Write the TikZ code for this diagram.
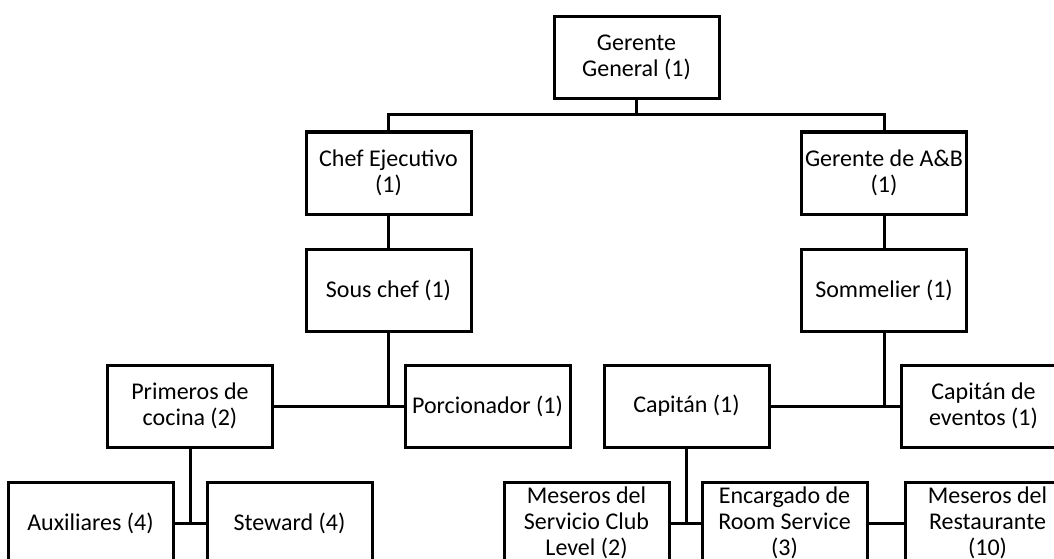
\documentclass[tikz,border=0pt]{standalone}
\usepackage{fontspec}
\setmainfont{Carlito}
\begin{document}
\begin{tikzpicture}[x=1pt,y=-1pt,
  box/.style={draw, line width=3pt, rectangle, minimum width=165pt, minimum height=82pt,
    inner sep=0pt, align=center, font=\fontsize{24}{26}\selectfont},
  conn/.style={line width=3pt, line join=miter}]
\useasboundingbox (0,0) rectangle (1054,559);
\clip (0,0) rectangle (1054,559);
\fill[white] (0,0) rectangle (1054,559);
\node[box] (gg) at (636.5,57.5) {Gerente\\General (1)};
\node[box] (chef) at (388.5,173) {Chef Ejecutivo\\(1)};
\node[box] (ab) at (884,173) {Gerente de A\&B\\(1)};
\node[box] (sous) at (388.5,290) {Sous chef (1)};
\node[box] (somm) at (884,290) {Sommelier (1)};
\node[box] (prim) at (190,406) {Primeros de\\cocina (2)};
\node[box] (porc) at (487.5,406) {Porcionador (1)};
\node[box] (cap) at (686.5,406) {Capitán (1)};
\node[box] (capev) at (983.5,406) {Capitán de\\eventos (1)};
\node[box] (aux) at (90.5,523) {Auxiliares (4)};
\node[box] (stew) at (289.5,523) {Steward (4)};
\node[box] (club) at (586.5,523) {Meseros del\\Servicio Club\\Level (2)};
\node[box] (enc) at (784.5,523) {Encargado de\\Room Service\\(3)};
\node[box] (rest) at (987.5,523) {Meseros del\\Restaurante\\(10)};
\coordinate (bus) at (0,115);
\draw[conn] (gg.south) -- (gg.south |- bus);
\draw[conn] (chef.north) -- (chef.north |- bus) -- (ab.north |- bus) -- (ab.north);
\draw[conn] (chef.south) -- (sous.north);
\draw[conn] (ab.south) -- (somm.north);
\draw[conn] (sous.south) -- (sous.south |- prim.east);
\draw[conn] (prim.east) -- (porc.west);
\draw[conn] (somm.south) -- (somm.south |- cap.east);
\draw[conn] (cap.east) -- (capev.west);
\draw[conn] (prim.south) -- (prim.south |- aux.east);
\draw[conn] (aux.east) -- (stew.west);
\draw[conn] (cap.south) -- (cap.south |- club.east);
\draw[conn] (club.east) -- (enc.west);
\draw[conn] (enc.east) -- (rest.west);
\end{tikzpicture}
\end{document}
